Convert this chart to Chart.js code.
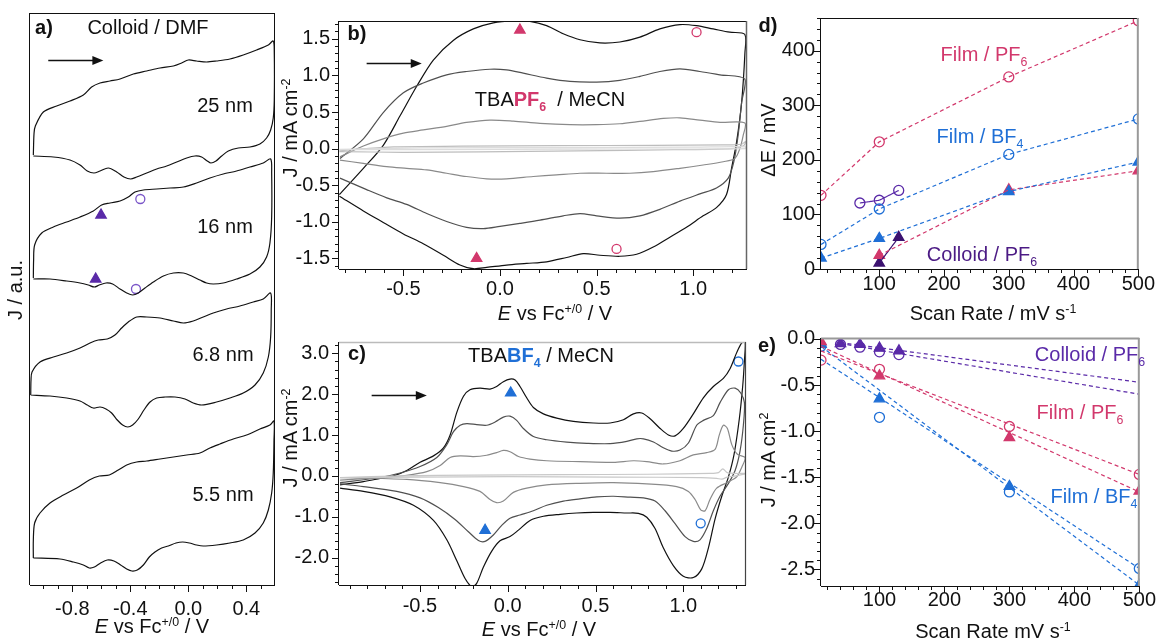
<!DOCTYPE html>
<html>
<head>
<meta charset="utf-8">
<script src="https://cdn.jsdelivr.net/npm/chart.js@4"></script>
<style>
  body { margin: 0; width: 1158px; height: 639px; position: relative; background: #fff; overflow: hidden;
         font-family: "Liberation Sans", Arial, sans-serif; }
  .pane { position: absolute; }
  .t { position: absolute; white-space: nowrap; font-size: 20px; line-height: 1; color: #111;
       transform: translate(-50%, -50%); z-index: 5; }
  .rot { transform: translate(-50%, -50%) rotate(-90deg); }
  .b { font-weight: bold; }
  .sp { font-size: 0.62em; position: relative; top: -0.55em; }
  .sb { font-size: 0.62em; position: relative; top: 0.4em; }
  .pink { color: #d2386c; }
  .blue { color: #1f6fd6; }
  .purp { color: #4b1a84; }
  .purp2 { color: #5a2aa8; }
</style>
</head>
<body>
<div class="pane" style="left:0;top:0"><canvas id="ca" width="290" height="639"></canvas></div>
<div class="pane" style="left:280px;top:0"><canvas id="cb" width="480" height="320"></canvas></div>
<div class="pane" style="left:280px;top:320px"><canvas id="cc" width="480" height="319"></canvas></div>
<div class="pane" style="left:760px;top:0"><canvas id="cd" width="398" height="320"></canvas></div>
<div class="pane" style="left:760px;top:320px"><canvas id="ce" width="398" height="319"></canvas></div>

<!-- panel a -->
<div class="t b" style="left:44px;top:27px">a)</div>
<div class="t" style="left:148px;top:27px">Colloid / DMF</div>
<div class="t" style="left:225px;top:105px">25 nm</div>
<div class="t" style="left:225px;top:226px">16 nm</div>
<div class="t" style="left:223px;top:354px">6.8 nm</div>
<div class="t" style="left:223px;top:494px">5.5 nm</div>
<div class="t" style="left:152px;top:626px"><i>E</i> vs Fc<span class="sp">+/0</span> / V</div>
<div class="t rot" style="left:15px;top:290px">J / a.u.</div>

<!-- panel b -->
<div class="t b" style="left:357px;top:33px">b)</div>
<div class="t" style="left:550px;top:99px">TBA<span class="b pink">PF<span class="sb">6</span></span>&nbsp; / MeCN</div>
<div class="t rot" style="left:290px;top:128px">J / mA cm<span class="sp">-2</span></div>
<div class="t" style="left:555px;top:313px"><i>E</i> vs Fc<span class="sp">+/0</span> / V</div>

<!-- panel c -->
<div class="t b" style="left:357px;top:353px">c)</div>
<div class="t" style="left:541px;top:355px">TBA<span class="b blue">BF<span class="sb">4</span></span> / MeCN</div>
<div class="t rot" style="left:290px;top:438px">J / mA cm<span class="sp">-2</span></div>
<div class="t" style="left:539px;top:629px"><i>E</i> vs Fc<span class="sp">+/0</span> / V</div>

<!-- panel d -->
<div class="t b" style="left:768px;top:25px">d)</div>
<div class="t pink" style="left:984px;top:54px">Film / PF<span class="sb">6</span></div>
<div class="t blue" style="left:980px;top:136px">Film / BF<span class="sb">4</span></div>
<div class="t purp" style="left:982px;top:254px">Colloid / PF<span class="sb">6</span></div>
<div class="t rot" style="left:768px;top:140px">ΔE / mV</div>
<div class="t" style="left:993px;top:313px">Scan Rate / mV s<span class="sp">-1</span></div>

<!-- panel e -->
<div class="t b" style="left:767px;top:345px">e)</div>
<div class="t purp2" style="left:1090px;top:354px">Colloid / PF<span class="sb">6</span></div>
<div class="t pink" style="left:1080px;top:412px">Film / PF<span class="sb">6</span></div>
<div class="t blue" style="left:1094px;top:496px">Film / BF<span class="sb">4</span></div>
<div class="t rot" style="left:768px;top:460px">J / mA cm<span class="sp">2</span></div>
<div class="t" style="left:993px;top:631px">Scan Rate mV s<span class="sp">-1</span></div>

<script>
// ---------- panel a: colloid CVs in DMF, [E / V, J / a.u.] ----------
const a25 = [[-1.069,430],[-1.064,452],[-1.055,459],[-1.000,473],[-0.908,479],[-0.816,484],[-0.724,490],[-0.667,498],
  [-0.609,502],[-0.540,504],[-0.471,506],[-0.379,511],[-0.287,514],[-0.195,517],[-0.103,519],[-0.046,522],[0.000,525],
  [0.057,524],[0.126,523],[0.195,524],[0.287,526],[0.379,530],[0.471,535],[0.552,540],[0.586,544],
  [0.593,532],[0.593,485],[0.586,467],[0.568,455],[0.540,447],[0.494,441],[0.425,438],[0.345,437],[0.276,434],
  [0.230,429],[0.191,424],[0.156,422],[0.131,424],[0.092,428],[0.046,429],[-0.011,427],[-0.080,423],[-0.149,419],
  [-0.218,416],[-0.287,412],[-0.356,408],[-0.398,406],[-0.444,408],[-0.494,413],[-0.552,417],[-0.609,414],
  [-0.651,412],[-0.697,414],[-0.747,420],[-0.816,425],[-0.931,428],[-1.069,429]];
const a16 = [[-1.069,307],[-1.067,325],[-1.060,340],[-1.011,352],[-0.931,358],[-0.839,363],[-0.747,368],[-0.655,374],
  [-0.598,380],[-0.540,382],[-0.471,384],[-0.414,388],[-0.368,393],[-0.310,395],[-0.218,396],[-0.126,397],[-0.034,398],
  [0.057,402],[0.149,407],[0.241,411],[0.333,414],[0.425,418],[0.517,422],[0.568,426],
  [0.575,412],[0.575,368],[0.563,342],[0.540,328],[0.494,318],[0.425,311],[0.333,306],[0.241,302],[0.172,301],
  [0.126,302],[0.080,305],[0.023,309],[-0.034,312],[-0.103,312],[-0.172,309],[-0.241,303],[-0.299,297],[-0.345,292],
  [-0.384,290],[-0.425,292],[-0.471,296],[-0.522,301],[-0.568,302],[-0.614,300],[-0.648,298],[-0.690,300],
  [-0.747,302],[-0.839,304],[-0.954,306],[-1.069,306]];
const a68 = [[-1.087,190],[-1.085,205],[-1.078,213],[-1.023,223],[-0.931,228],[-0.839,232],[-0.747,237],[-0.678,242],
  [-0.621,245],[-0.559,246],[-0.506,250],[-0.460,257],[-0.414,263],[-0.356,268],[-0.287,268],[-0.195,267],[-0.103,264],
  [-0.034,262],[0.034,264],[0.103,268],[0.172,272],[0.264,276],[0.356,279],[0.448,283],[0.517,286],[0.568,292],
  [0.572,275],[0.568,248],[0.552,228],[0.517,212],[0.460,200],[0.379,192],[0.287,187],[0.195,183],[0.092,180],
  [0.034,182],[-0.023,186],[-0.092,188],[-0.161,188],[-0.218,187],[-0.264,183],[-0.306,175],[-0.345,166],[-0.384,160],
  [-0.418,158],[-0.453,160],[-0.490,165],[-0.529,172],[-0.568,176],[-0.609,178],[-0.655,177],[-0.697,180],
  [-0.747,184],[-0.839,187],[-0.954,189],[-1.087,190]];
const a55 = [[-1.069,27],[-1.069,45],[-1.060,62],[-1.023,72],[-0.954,82],[-0.862,90],[-0.770,97],[-0.683,105],
  [-0.614,109],[-0.545,110],[-0.483,115],[-0.425,120],[-0.356,123],[-0.287,124],[-0.195,126],[-0.103,128],[-0.011,130],
  [0.080,132],[0.149,137],[0.218,141],[0.310,146],[0.402,150],[0.494,156],[0.563,160],[0.591,164],
  [0.591,145],[0.586,112],[0.575,92],[0.552,75],[0.517,62],[0.460,52],[0.379,45],[0.287,42],[0.195,40],[0.103,39],
  [0.057,40],[0.007,42],[-0.039,43],[-0.085,42],[-0.138,39],[-0.184,37],[-0.230,33],[-0.269,28],[-0.310,20],
  [-0.352,15],[-0.389,14],[-0.425,16],[-0.467,20],[-0.513,24],[-0.559,25],[-0.605,22],[-0.648,18],[-0.683,17],
  [-0.724,20],[-0.793,23],[-0.885,26],[-1.069,27]];
const a16Tri = [[-0.602,370],[-0.639,306]];
const a16Circ = [[-0.331,386],[-0.361,296]];
const aTicks = [-0.8, -0.4, 0.0, 0.4];

// ---------- panel b: film in TBAPF6 / MeCN, [E / V, J / mA cm-2] ----------
const b500 = [[-0.831,-0.627],[-0.707,-0.27],[-0.604,0.045],[-0.517,0.448],[-0.431,0.851],[-0.345,1.21],[-0.242,1.478],
  [-0.138,1.635],[-0.035,1.718],[0.069,1.745],[0.155,1.738],[0.241,1.680],[0.327,1.568],[0.414,1.487],[0.517,1.443],
  [0.620,1.456],[0.724,1.523],[0.827,1.635],[0.931,1.694],[1.017,1.680],[1.103,1.635],[1.189,1.590],[1.267,1.559],
  [1.267,1.30],[1.250,0.627],[1.224,0.09],[1.198,-0.269],[1.172,-0.627],[1.120,-0.806],[1.051,-0.918],[0.965,-1.075],
  [0.879,-1.210],[0.793,-1.344],[0.707,-1.443],[0.620,-1.470],[0.517,-1.456],[0.431,-1.434],[0.345,-1.487],
  [0.241,-1.546],[0.138,-1.568],[0.034,-1.590],[-0.069,-1.622],[-0.138,-1.640],[-0.207,-1.590],[-0.293,-1.456],
  [-0.397,-1.299],[-0.500,-1.165],[-0.604,-1.008],[-0.707,-0.851],[-0.831,-0.650]];
const b300 = [[-0.828,-0.134],[-0.707,0.134],[-0.604,0.493],[-0.500,0.762],[-0.397,0.896],[-0.276,1.008],[-0.173,1.053],
  [-0.052,1.084],[0.034,1.075],[0.120,1.030],[0.241,0.963],[0.362,0.918],[0.500,0.909],[0.620,0.932],[0.724,0.986],
  [0.827,1.053],[0.931,1.089],[1.034,1.053],[1.138,1.008],[1.267,0.950],
  [1.250,0.627],[1.232,0.179],[1.210,-0.179],[1.181,-0.403],[1.120,-0.538],[1.034,-0.618],[0.931,-0.717],
  [0.827,-0.829],[0.724,-0.918],[0.620,-0.950],[0.500,-0.918],[0.414,-0.887],[0.327,-0.918],[0.207,-0.977],
  [0.103,-1.021],[0.000,-1.062],[-0.086,-1.093],[-0.173,-1.075],[-0.276,-0.995],[-0.379,-0.887],[-0.483,-0.762],
  [-0.586,-0.672],[-0.690,-0.560],[-0.828,-0.403]];
const b100 = [[-0.828,-0.112],[-0.707,0.036],[-0.604,0.134],[-0.500,0.211],[-0.397,0.255],[-0.276,0.305],[-0.173,0.358],
  [-0.052,0.390],[0.069,0.376],[0.207,0.345],[0.362,0.327],[0.500,0.327],[0.620,0.340],[0.724,0.372],[0.845,0.412],
  [0.931,0.421],[1.034,0.390],[1.138,0.358],[1.267,0.349],
  [1.258,0.179],[1.241,0.0],[1.215,-0.134],[1.155,-0.179],[1.051,-0.224],[0.931,-0.269],[0.793,-0.314],
  [0.672,-0.336],[0.551,-0.336],[0.414,-0.336],[0.293,-0.358],[0.172,-0.381],[0.034,-0.412],[-0.069,-0.412],
  [-0.173,-0.381],[-0.276,-0.336],[-0.379,-0.291],[-0.483,-0.269],[-0.586,-0.246],[-0.707,-0.202],[-0.828,-0.157]];
const b30 = [[-0.831,-0.03],[-0.70,0.0],[-0.55,0.025],[-0.2,0.033],[0.3,0.04],[0.8,0.045],[1.15,0.05],[1.25,0.06],
  [1.272,0.10],[1.26,0.04],[1.2,0.0],[0.9,-0.015],[0.4,-0.03],[-0.1,-0.045],[-0.5,-0.05],[-0.831,-0.04]];
const b10 = [[-0.831,-0.01],[-0.4,0.01],[0.3,0.015],[1.0,0.02],[1.27,0.025],[1.27,0.0],[0.8,-0.005],[0.0,-0.01],[-0.831,-0.015]];
const bTri = [[0.103,1.62],[-0.121,-1.50]];
const bCirc = [[1.017,1.59],[0.603,-1.37]];
const bTicksX = [-0.5, 0.0, 0.5, 1.0];
const bTicksY = [-1.5, -1.0, -0.5, 0.0, 0.5, 1.0, 1.5];

// ---------- panel c: film in TBABF4 / MeCN ----------
const c500 = [[-0.955,-0.221],[-0.822,-0.142],[-0.727,-0.063],[-0.651,0.0],[-0.575,0.134],[-0.499,0.332],[-0.423,0.490],
  [-0.366,0.687],[-0.328,1.003],[-0.290,1.556],[-0.252,1.951],[-0.215,2.109],[-0.158,2.148],[-0.101,2.125],[-0.063,2.188],
  [-0.025,2.306],[0.013,2.370],[0.042,2.346],[0.070,2.188],[0.108,1.912],[0.146,1.675],[0.203,1.517],[0.279,1.414],
  [0.374,1.335],[0.488,1.295],[0.583,1.295],[0.659,1.374],[0.716,1.517],[0.763,1.540],[0.811,1.398],[0.868,1.161],
  [0.915,1.003],[0.953,0.979],[1.000,1.161],[1.057,1.517],[1.114,1.911],[1.171,2.188],[1.228,2.385],[1.266,2.622],
  [1.304,3.017],[1.333,3.254],[1.352,3.278],
  [1.348,2.820],[1.338,2.188],[1.319,1.398],[1.289,0.529],[1.257,-0.024],[1.219,-0.498],[1.181,-1.051],[1.143,-1.761],
  [1.105,-2.275],[1.057,-2.488],[1.000,-2.457],[0.943,-2.196],[0.886,-1.761],[0.839,-1.288],[0.792,-1.011],
  [0.744,-0.916],[0.678,-0.908],[0.583,-0.893],[0.488,-0.893],[0.393,-0.908],[0.298,-0.940],[0.203,-0.987],
  [0.127,-1.090],[0.061,-1.327],[0.013,-1.485],[-0.044,-1.588],[-0.091,-1.840],[-0.139,-2.235],[-0.177,-2.630],
  [-0.205,-2.709],[-0.243,-2.512],[-0.290,-2.077],[-0.347,-1.564],[-0.423,-1.090],[-0.537,-0.719],[-0.670,-0.513],
  [-0.822,-0.379],[-0.955,-0.300]];
const c300 = [[-0.955,-0.166],[-0.727,-0.039],[-0.613,0.071],[-0.499,0.229],[-0.404,0.450],[-0.347,0.766],[-0.309,1.082],
  [-0.271,1.240],[-0.233,1.280],[-0.177,1.256],[-0.120,1.240],[-0.072,1.319],[-0.025,1.438],[0.013,1.461],[0.051,1.359],
  [0.089,1.161],[0.146,0.964],[0.222,0.885],[0.336,0.829],[0.450,0.798],[0.583,0.790],[0.678,0.845],[0.735,0.908],
  [0.773,0.908],[0.830,0.829],[0.886,0.687],[0.934,0.608],[0.981,0.632],[1.029,0.806],[1.076,1.240],[1.114,1.359],
  [1.171,1.477],[1.209,1.793],[1.257,2.109],[1.295,2.148],[1.327,2.030],[1.348,1.793],
  [1.342,1.240],[1.323,0.608],[1.295,0.134],[1.257,-0.182],[1.209,-0.498],[1.171,-0.853],[1.133,-1.288],
  [1.095,-1.564],[1.057,-1.603],[1.010,-1.485],[0.953,-1.169],[0.896,-0.853],[0.839,-0.616],[0.773,-0.537],
  [0.697,-0.521],[0.602,-0.498],[0.507,-0.513],[0.412,-0.561],[0.317,-0.616],[0.222,-0.719],[0.146,-0.853],
  [0.070,-0.956],[0.013,-1.035],[-0.034,-1.209],[-0.082,-1.446],[-0.129,-1.603],[-0.167,-1.580],[-0.224,-1.367],
  [-0.300,-1.066],[-0.395,-0.774],[-0.499,-0.537],[-0.632,-0.379],[-0.822,-0.261],[-0.955,-0.197]];
const c100 = [[-0.955,-0.103],[-0.727,-0.039],[-0.575,0.016],[-0.461,0.103],[-0.385,0.253],[-0.328,0.450],[-0.271,0.490],
  [-0.196,0.474],[-0.120,0.506],[-0.063,0.569],[-0.025,0.624],[0.013,0.592],[0.061,0.474],[0.127,0.411],[0.222,0.371],
  [0.412,0.348],[0.602,0.332],[0.716,0.371],[0.792,0.348],[0.886,0.292],[0.981,0.371],[1.057,0.513],[1.133,0.569],
  [1.181,0.648],[1.205,1.003],[1.228,1.240],[1.251,1.161],[1.276,0.766],[1.308,0.529],[1.352,0.450],
  [1.333,0.213],[1.304,-0.024],[1.247,-0.166],[1.190,-0.300],[1.152,-0.577],[1.124,-0.853],[1.099,-0.829],
  [1.067,-0.577],[1.029,-0.379],[0.962,-0.261],[0.792,-0.197],[0.602,-0.166],[0.412,-0.182],[0.222,-0.221],
  [0.108,-0.300],[0.032,-0.403],[-0.025,-0.616],[-0.063,-0.656],[-0.101,-0.577],[-0.158,-0.379],[-0.252,-0.261],
  [-0.385,-0.166],[-0.575,-0.087],[-0.955,-0.039]];
const c30 = [[-0.955,-0.04],[-0.6,0.0],[-0.2,0.02],[0.3,0.03],[0.8,0.04],[1.15,0.06],[1.2,0.08],[1.225,0.17],[1.25,0.08],
  [1.3,0.06],[1.352,0.06],[1.352,0.05],[1.3,0.0],[1.25,-0.03],[1.22,-0.08],[1.19,-0.06],[1.1,-0.04],[0.6,-0.03],
  [0.0,-0.02],[-0.5,-0.03],[-0.955,-0.05]];
const cTri = [[0.017,2.03],[-0.129,-1.33]];
const cCirc = [[1.314,2.80],[1.099,-1.16]];
const cTicksX = [-0.5, 0.0, 0.5, 1.0];
const cTicksY = [-2.0, -1.0, 0.0, 1.0, 2.0, 3.0];

// ---------- panel d: peak separation vs scan rate, [mV s-1, mV] ----------
const dFilmPF6Circ = [[10,135],[100,233],[300,352],[500,455]];
const dFilmBF4Circ = [[10,45],[100,110],[300,210],[500,275]];
const dFilmBF4Tri = [[10,20],[100,56],[300,142],[500,196]];
const dFilmPF6Tri = [[100,25],[300,145],[500,180]];
const dColCirc = [[70,121],[100,126],[130,144]];
const dColTri = [[100,11],[130,58]];
const dTicksX = [100, 200, 300, 400, 500];
const dTicksY = [0, 100, 200, 300, 400];

// ---------- panel e: peak current vs scan rate, [mV s-1, mA cm-2] ----------
const eColTri = [[40,-0.05],[70,-0.06],[100,-0.10],[130,-0.13]];
const eColCirc = [[40,-0.06],[70,-0.09],[100,-0.14],[130,-0.17]];
const eFilmPF6Circ = [[10,-0.23],[100,-0.33],[300,-0.95],[500,-1.47]];
const eFilmPF6Tri = [[10,-0.03],[100,-0.40],[300,-1.07],[500,-1.65]];
const eFilmBF4Circ = [[10,-0.08],[100,-0.85],[300,-1.66],[500,-2.49]];
const eFilmBF4Tri = [[10,-0.06],[100,-0.65],[300,-1.60],[500,-2.67]];
const eColFitA = [[40,-0.04],[500,-0.47]];
const eColFitB = [[40,-0.05],[500,-0.60]];
const ePF6FitA = [[10,-0.13],[500,-1.47]];
const ePF6FitB = [[10,-0.08],[500,-1.66]];
const eBF4FitA = [[10,-0.22],[500,-2.49]];
const eBF4FitB = [[10,-0.08],[500,-2.67]];
const eTicksX = [100, 200, 300, 400, 500];
const eTicksY = [-2.5, -2.0, -1.5, -1.0, -0.5, 0.0];

const PINK = '#d2386c', BLUE = '#1f6fd6', PURP = '#5a2aa8', PURP_L = '#7a55c8', PURP_D = '#3c1270';

Chart.defaults.font.family = '"Liberation Sans", Arial, sans-serif';
Chart.defaults.font.size = 20;
Chart.defaults.color = '#111';

const pts = a => a.map(p => ({ x: p[0], y: p[1] }));

function curve(data, color, w, dash) {
  return { data: pts(data), showLine: true, borderColor: color, borderWidth: w || 1.2, pointRadius: 0,
           tension: dash ? 0 : 0.3, borderDash: dash || [], fill: false };
}
function marks(data, color, style, filled, r) {
  return { data: pts(data), showLine: false, pointStyle: style, pointRadius: r,
           pointBorderColor: color, pointBackgroundColor: filled ? color : 'rgba(0,0,0,0)',
           pointBorderWidth: 1.3, borderColor: color, backgroundColor: color };
}
function axis(min, max, ticks, fmt, size, pad, isX, show) {
  return {
    type: 'linear', min, max, bounds: 'data', display: show !== false,
    grid: { display: false, drawTicks: false }, border: { display: false },
    afterBuildTicks: s => { s.ticks = ticks.map(v => ({ value: v })); },
    afterFit: s => { if (isX) s.height = size; else s.width = size; },
    ticks: { padding: pad, autoSkip: false, maxRotation: 0, callback: fmt }
  };
}
const f1 = v => v.toFixed(1);
const f0 = v => String(v);

// frame, outward tick marks and the scan-direction arrow
const framePlugin = {
  id: 'frame',
  afterDraw(chart, args, o) {
    const { ctx, chartArea: a, scales } = chart;
    ctx.save();
    const seg = (x1, y1, x2, y2, c, w) => {
      ctx.beginPath(); ctx.strokeStyle = c; ctx.lineWidth = w;
      ctx.moveTo(x1, y1); ctx.lineTo(x2, y2); ctx.stroke();
    };
    seg(a.left, a.bottom + 0.5, a.right, a.bottom + 0.5, o.bottom || '#111', 1);
    seg(a.left - 0.5, a.top, a.left - 0.5, a.bottom, o.left || '#111', 1);
    seg(a.left, a.top + 0.5, a.right, a.top + 0.5, o.top[0], o.top[1]);
    seg(a.right - 0.5, a.top, a.right - 0.5, a.bottom, o.right[0], o.right[1]);
    for (const t of o.ticks) {
      const s = scales[t.axis];
      const draw = (v, len) => {
        const p = Math.round(s.getPixelForValue(v)) + 0.5;
        if (t.axis === 'x') seg(p, a.bottom, p, a.bottom + len, '#111', 1);
        else seg(a.left, p, a.left - len, p, '#111', 1);
      };
      for (let i = 0; ; i++) {
        const v = t.from + i * t.step;
        if (v > s.max + 1e-9) break;
        if (v >= s.min - 1e-9) draw(v, 4);
      }
      if (s.options.display !== false) s.ticks.forEach(k => draw(k.value, 7));
    }
    if (o.arrow) {
      const x1 = scales.x.getPixelForValue(o.arrow[0]);
      const x2 = scales.x.getPixelForValue(o.arrow[1]);
      const y = Math.round(scales.y.getPixelForValue(o.arrow[2])) + 0.5;
      seg(x1, y, x2 - 8, y, '#111', 1.3);
      ctx.beginPath(); ctx.fillStyle = '#111';
      ctx.moveTo(x2, y); ctx.lineTo(x2 - 11, y - 4.5); ctx.lineTo(x2 - 11, y + 4.5); ctx.closePath(); ctx.fill();
    }
    ctx.restore();
  }
};

function mk(id, datasets, xs, ys, padding, frame) {
  return new Chart(document.getElementById(id), {
    type: 'scatter',
    data: { datasets },
    options: {
      responsive: false, animation: false, events: [],
      layout: { padding },
      plugins: { legend: { display: false }, tooltip: { enabled: false }, frame },
      scales: { x: xs, y: ys }
    },
    plugins: [framePlugin]
  });
}

// panel a
mk('ca', [
  curve(a25, '#111'), curve(a16, '#111'), curve(a68, '#111'), curve(a55, '#111'),
  marks(a16Tri, PURP, 'triangle', true, 6), marks(a16Circ, PURP_L, 'circle', false, 4.5)
], axis(-1.092, 0.598, aTicks, f1, 54, 12, true),
   axis(0, 572, [], f1, 0, 0, false, false),
   { left: 30, top: 13, right: 15, bottom: 0 },
   { top: ['#111', 1], right: ['#111', 1], ticks: [{ axis: 'x', from: -1.0, step: 0.1 }], arrow: [-0.966, -0.586, 525] });

// panel b
mk('cb', [
  curve(b10, '#dcdcdc'), curve(b30, '#bdbdbd'), curve(b100, '#8a8a8a'), curve(b300, '#505050'), curve(b500, '#111'),
  marks(bTri, PINK, 'triangle', true, 6), marks(bCirc, PINK, 'circle', false, 4.5)
], axis(-0.833, 1.278, bTicksX, f1, 51, 8, true),
   axis(-1.644, 1.743, bTicksY, f1, 59, 9, false),
   { left: 0, top: 17, right: 13, bottom: 0 },
   { top: ['#111', 1], right: ['#666', 1.5], ticks: [{ axis: 'x', from: -0.8, step: 0.1 }, { axis: 'y', from: -1.6, step: 0.1 }],
     arrow: [-0.690, -0.405, 1.165] });

// panel c
mk('cc', [
  curve(c30, '#c8c8c8'), curve(c100, '#8a8a8a'), curve(c300, '#505050'), curve(c500, '#111'),
  marks(cTri, BLUE, 'triangle', true, 6), marks(cCirc, BLUE, 'circle', false, 4.5)
], axis(-0.961, 1.357, cTicksX, f1, 54, 9, true),
   axis(-2.67, 3.277, cTicksY, f1, 59, 10, false),
   { left: 0, top: 14, right: 14, bottom: 0 },
   { top: ['#bbb', 1.5], right: ['#444', 1.2], ticks: [{ axis: 'x', from: -0.9, step: 0.1 }, { axis: 'y', from: -2.6, step: 0.2 }],
     arrow: [-0.775, -0.461, 1.99] });

// panel d
const DASH = [4, 3];
mk('cd', [
  curve(dFilmPF6Circ, PINK, 1.2, DASH), curve(dFilmBF4Circ, BLUE, 1.2, DASH),
  curve(dFilmBF4Tri, BLUE, 1.2, DASH), curve(dFilmPF6Tri, PINK, 1.2, DASH),
  curve(dColCirc, PURP, 1.2, [1, 0]), curve(dColTri, PURP_D, 1.2, [1, 0]),
  marks(dFilmPF6Circ, PINK, 'circle', false, 5), marks(dFilmBF4Circ, BLUE, 'circle', false, 5),
  marks(dFilmBF4Tri, BLUE, 'triangle', true, 6), marks(dFilmPF6Tri, PINK, 'triangle', true, 6),
  marks(dColCirc, PURP, 'circle', false, 5), marks(dColTri, PURP_D, 'triangle', true, 6)
], axis(10, 500, dTicksX, f0, 51, 3, true),
   axis(0, 460, dTicksY, f0, 61, 6, false),
   { left: 0, top: 16, right: 5, bottom: 0 },
   { top: ['#111', 1], right: ['#999', 2], ticks: [{ axis: 'x', from: 20, step: 20 }, { axis: 'y', from: 20, step: 20 }] });

// panel e
mk('ce', [
  curve(eColFitA, PURP, 1.2, DASH), curve(eColFitB, PURP, 1.2, DASH),
  curve(ePF6FitA, PINK, 1.2, DASH), curve(ePF6FitB, PINK, 1.2, DASH),
  curve(eBF4FitA, BLUE, 1.2, DASH), curve(eBF4FitB, BLUE, 1.2, DASH),
  marks(eColCirc, PURP, 'circle', false, 5), marks(eColTri, PURP, 'triangle', true, 6),
  marks(eFilmPF6Circ, PINK, 'circle', false, 5), marks(eFilmPF6Tri, PINK, 'triangle', true, 6),
  marks(eFilmBF4Circ, BLUE, 'circle', false, 5), marks(eFilmBF4Tri, BLUE, 'triangle', true, 6)
], axis(10, 500, eTicksX, f0, 53, 2, true),
   axis(-2.68, 0.01, eTicksY, f1, 61, 6, false),
   { left: 0, top: 13, right: 5, bottom: 0 },
   { top: ['#999', 2], right: ['#999', 2], ticks: [{ axis: 'x', from: 20, step: 20 }, { axis: 'y', from: -2.6, step: 0.1 }] });
</script>
</body>
</html>
